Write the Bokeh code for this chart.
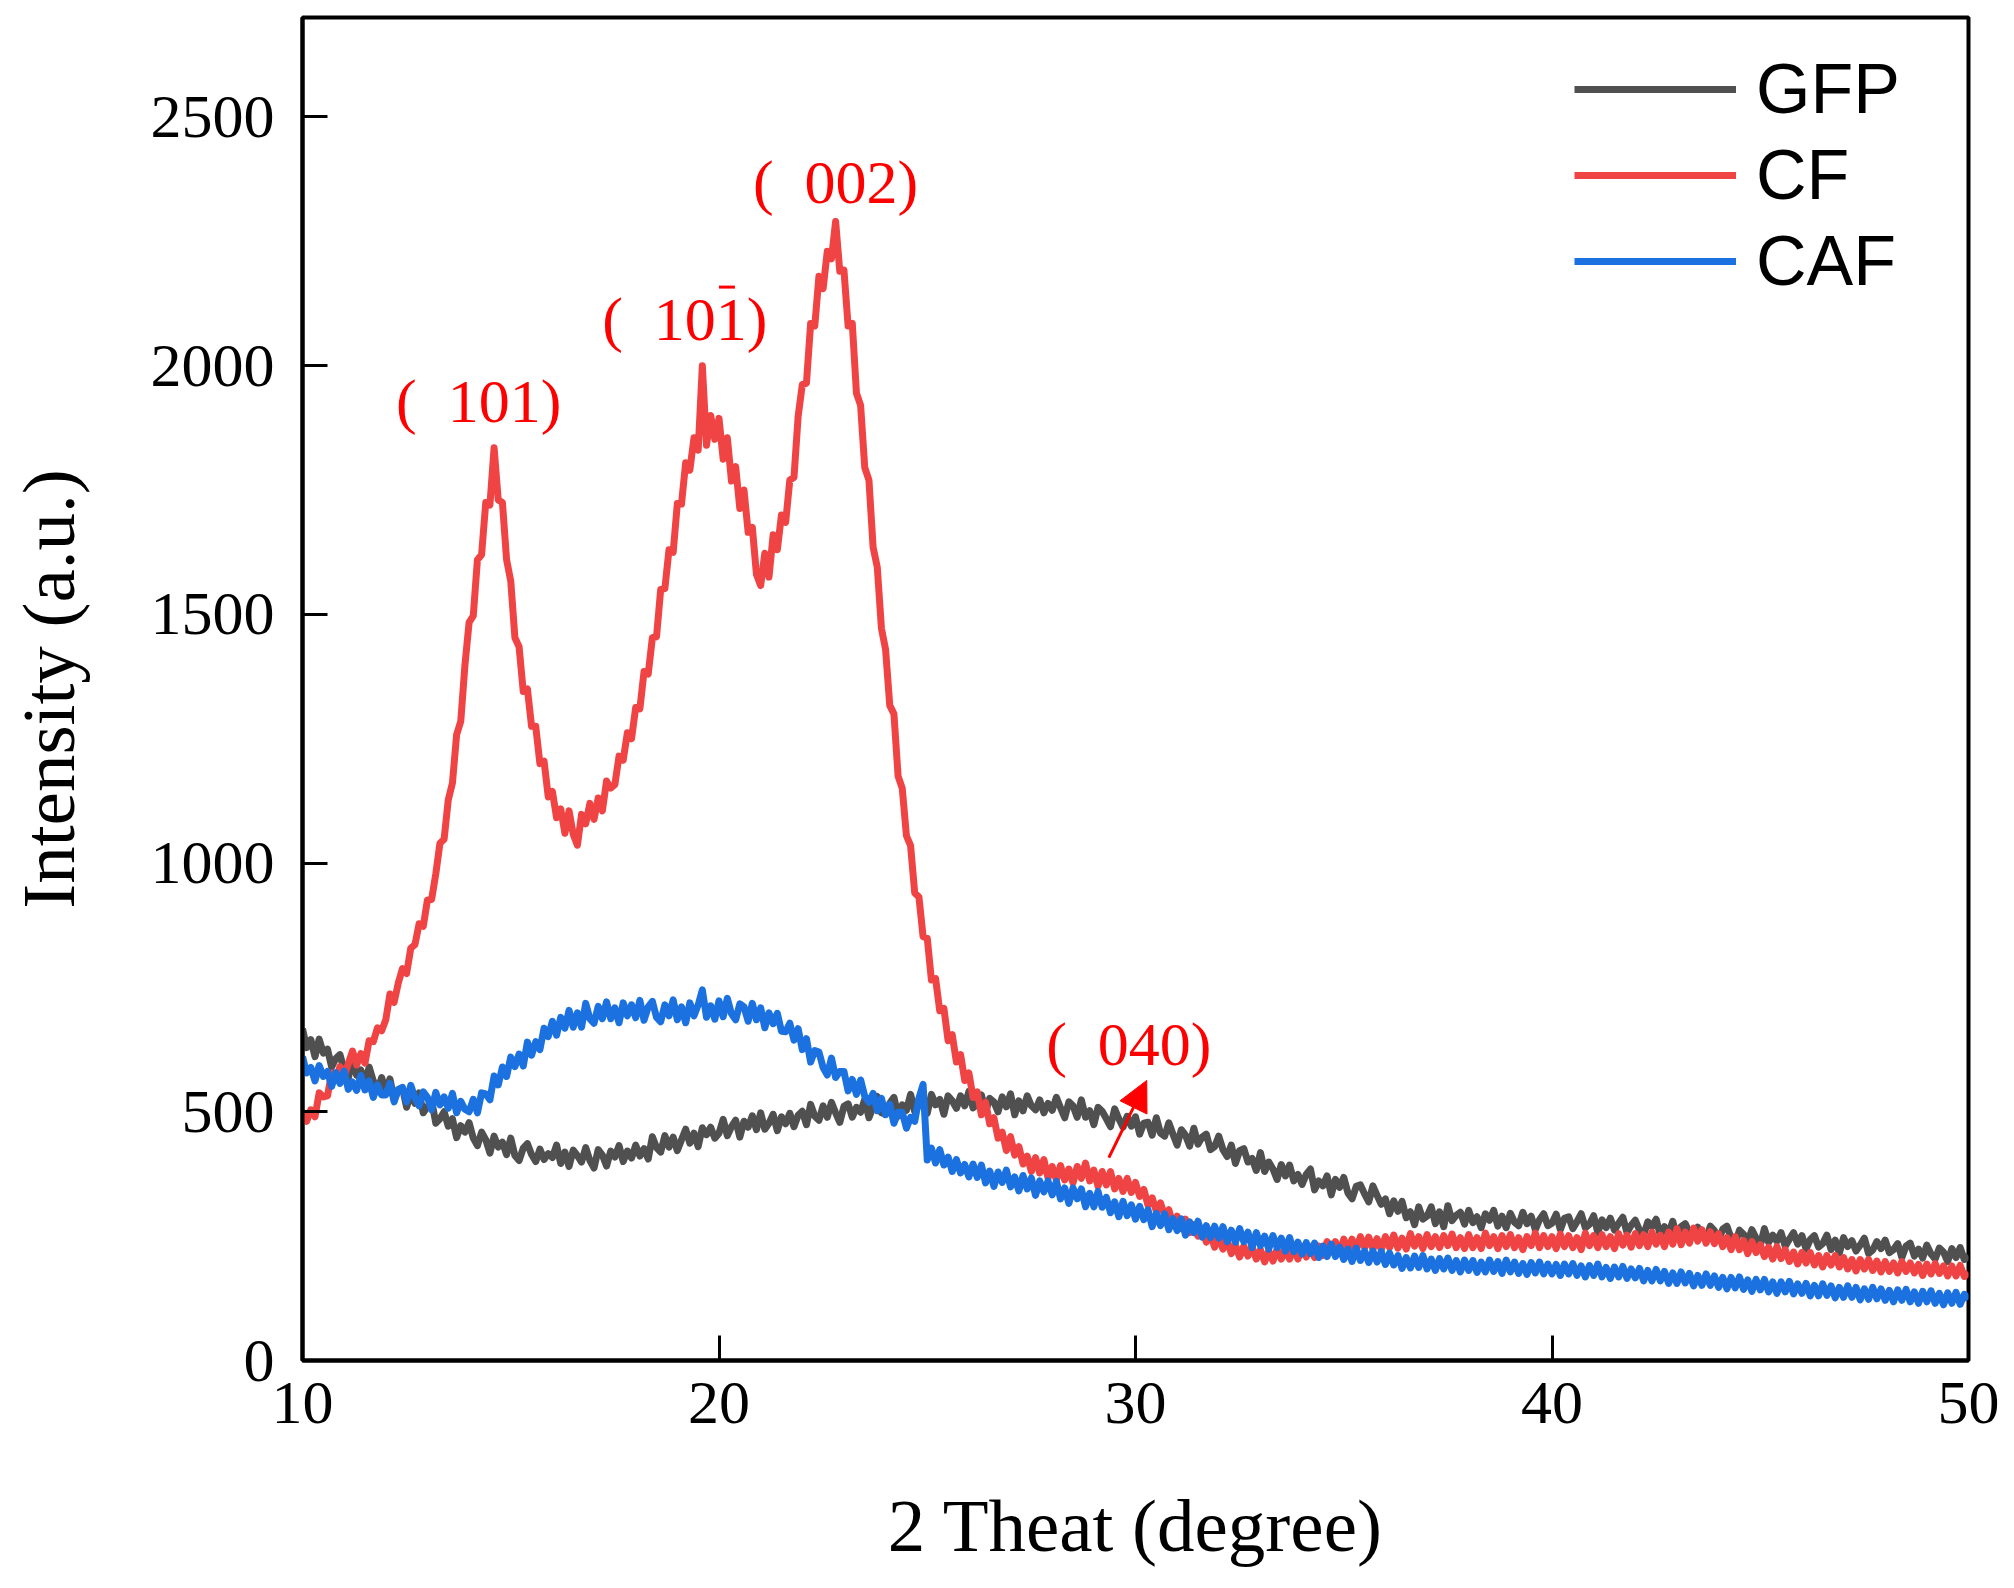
import numpy as np
from bokeh.plotting import figure
from bokeh.models import (ColumnDataSource, Range1d, FixedTicker, Legend, LegendItem,
                          Arrow, NormalHead)
from bokeh.core.properties import value
from bokeh.embed import file_html
from bokeh.resources import INLINE

# ---------------- data (2-theta sampling grid: start 10.0, step 0.1) ----------------
two_theta_start = 10.0
two_theta_step = 0.1

gfp = [
    667, 629, 645, 611, 646, 618, 626, 590, 607, 615, 584, 568, 605, 573, 584, 557, 590, 562, 542, 569,
    541, 566, 525, 544, 548, 509, 537, 517, 538, 498, 510, 523, 477, 486, 500, 471, 486, 448, 472, 459,
    478, 447, 432, 459, 444, 417, 451, 429, 439, 414, 447, 412, 402, 427, 436, 414, 400, 425, 404, 416,
    408, 433, 396, 419, 390, 423, 412, 399, 428, 402, 387, 424, 413, 391, 421, 409, 432, 400, 421, 407,
    433, 411, 426, 405, 450, 428, 419, 452, 429, 449, 422, 444, 465, 437, 457, 430, 468, 454, 469, 447,
    457, 485, 452, 470, 483, 449, 481, 469, 492, 464, 498, 465, 477, 495, 462, 490, 476, 497, 470, 493,
    501, 474, 515, 491, 483, 512, 489, 519, 498, 479, 511, 516, 489, 509, 499, 525, 488, 510, 531, 498,
    495, 517, 529, 491, 514, 503, 535, 500, 525, 510, 497, 535, 514, 525, 495, 532, 522, 507, 532, 512,
    541, 508, 515, 534, 499, 527, 520, 500, 530, 510, 536, 494, 522, 502, 532, 512, 504, 524, 498, 517,
    503, 529, 508, 488, 520, 512, 489, 524, 489, 502, 474, 509, 501, 486, 470, 506, 486, 469, 491, 471,
    490, 455, 477, 479, 453, 488, 457, 451, 478, 455, 433, 464, 453, 431, 467, 435, 449, 455, 424, 430,
    451, 424, 410, 433, 396, 422, 426, 399, 406, 382, 418, 380, 399, 385, 364, 394, 371, 393, 361, 374,
    354, 374, 385, 343, 361, 351, 371, 333, 364, 348, 368, 337, 325, 350, 353, 335, 319, 351, 332, 314,
    325, 295, 321, 300, 320, 287, 299, 273, 309, 284, 290, 309, 275, 299, 269, 311, 281, 292, 298, 274,
    302, 277, 289, 267, 295, 282, 302, 270, 290, 267, 296, 278, 271, 298, 275, 290, 263, 283, 295, 271,
    276, 294, 263, 286, 289, 265, 279, 295, 267, 274, 291, 257, 283, 267, 286, 262, 276, 288, 257, 272,
    282, 262, 252, 279, 269, 284, 252, 269, 255, 280, 245, 269, 275, 257, 249, 268, 256, 242, 270, 261,
    242, 264, 270, 246, 234, 262, 254, 239, 263, 246, 231, 265, 237, 252, 240, 257, 230, 244, 257, 234,
    251, 224, 243, 251, 228, 235, 252, 223, 242, 216, 247, 229, 241, 220, 232, 246, 215, 222, 239, 225,
    242, 217, 223, 235, 207, 230, 236, 210, 224, 206, 232, 214, 204, 226, 218, 199, 225, 207, 227, 203,
    211,
]

cf = [
    495, 481, 504, 490, 538, 530, 532, 578, 563, 591, 572, 597, 622, 594, 617, 598, 643, 641, 669, 663,
    685, 737, 720, 759, 788, 778, 829, 836, 878, 873, 926, 927, 978, 1040, 1048, 1127, 1161, 1258, 1285, 1398,
    1484, 1497, 1610, 1620, 1725, 1720, 1835, 1730, 1725, 1610, 1567, 1453, 1435, 1345, 1350, 1275, 1275, 1200, 1205, 1133,
    1144, 1091, 1109, 1060, 1105, 1058, 1036, 1098, 1079, 1120, 1088, 1131, 1105, 1165, 1151, 1158, 1215, 1207, 1262, 1250,
    1313, 1310, 1385, 1380, 1453, 1455, 1550, 1552, 1630, 1625, 1723, 1722, 1805, 1790, 1855, 1830, 2000, 1840, 1900, 1852,
    1894, 1812, 1855, 1768, 1797, 1713, 1750, 1665, 1675, 1580, 1558, 1623, 1575, 1660, 1630, 1700, 1685, 1770, 1775, 1898,
    1962, 1965, 2085, 2080, 2180, 2155, 2230, 2215, 2290, 2190, 2192, 2080, 2085, 1945, 1920, 1795, 1770, 1635, 1595, 1472,
    1429, 1317, 1300, 1175, 1150, 1055, 1035, 940, 932, 852, 849, 765, 768, 703, 708, 643, 655, 600, 615, 563,
    578, 529, 540, 494, 519, 476, 488, 447, 459, 422, 450, 413, 430, 395, 411, 380, 408, 377, 404, 367,
    390, 363, 392, 363, 385, 357, 390, 366, 397, 361, 383, 350, 380, 353, 380, 345, 366, 340, 366, 338,
    358, 330, 344, 312, 327, 300, 317, 291, 303, 273, 290, 265, 284, 257, 273, 250, 266, 238, 254, 228,
    248, 224, 243, 215, 232, 208, 230, 210, 228, 204, 223, 198, 220, 200, 224, 204, 223, 204, 227, 204,
    229, 208, 229, 207, 230, 211, 239, 219, 239, 216, 244, 223, 244, 222, 249, 227, 248, 224, 245, 223,
    249, 227, 252, 226, 246, 224, 255, 230, 249, 225, 253, 229, 249, 227, 251, 231, 254, 227, 247, 225,
    253, 227, 247, 225, 256, 231, 249, 225, 251, 229, 253, 227, 247, 223, 249, 231, 256, 227, 251, 229,
    249, 225, 254, 229, 251, 227, 247, 223, 256, 231, 251, 227, 253, 229, 249, 225, 255, 232, 252, 228,
    255, 231, 253, 229, 258, 234, 252, 229, 258, 234, 265, 233, 258, 236, 266, 240, 263, 236, 259, 235,
    255, 229, 247, 223, 249, 223, 241, 215, 239, 217, 233, 209, 228, 204, 229, 205, 223, 199, 218, 194,
    217, 196, 217, 192, 211, 188, 211, 192, 211, 188, 207, 184, 203, 180, 203, 184, 203, 181, 200, 178,
    199, 179, 196, 176, 199, 179, 196, 176, 193, 171, 194, 174, 195, 175, 190, 170, 190, 170, 191, 169,
    177,
]

caf = [
    611, 578, 589, 562, 593, 571, 581, 551, 579, 557, 582, 545, 560, 543, 573, 544, 562, 529, 554, 534,
    534, 557, 520, 545, 549, 520, 553, 528, 512, 540, 529, 504, 539, 514, 530, 507, 537, 498, 521, 505,
    500, 525, 498, 538, 536, 524, 572, 554, 590, 571, 610, 591, 616, 592, 640, 614, 641, 625, 668, 651,
    682, 654, 690, 668, 704, 670, 699, 670, 718, 687, 678, 712, 687, 721, 687, 709, 679, 719, 693, 715,
    689, 724, 684, 711, 722, 690, 681, 715, 693, 725, 685, 711, 679, 719, 693, 715, 745, 690, 713, 686,
    723, 691, 728, 697, 685, 717, 711, 682, 718, 685, 709, 669, 699, 677, 698, 662, 661, 678, 644, 667,
    625, 647, 600, 623, 620, 589, 574, 608, 569, 581, 581, 542, 565, 535, 564, 531, 519, 537, 502, 527,
    494, 515, 477, 499, 499, 467, 489, 481, 527, 555, 403, 427, 397, 424, 393, 409, 380, 404, 377, 394,
    369, 395, 368, 393, 357, 381, 350, 379, 358, 383, 349, 369, 341, 372, 345, 367, 332, 361, 339, 361,
    333, 360, 325, 347, 316, 347, 325, 345, 309, 336, 309, 340, 308, 328, 297, 319, 289, 320, 291, 313,
    284, 310, 283, 303, 269, 296, 271, 295, 263, 285, 261, 285, 252, 279, 257, 280, 248, 271, 247, 270,
    246, 269, 239, 262, 238, 265, 239, 258, 227, 257, 231, 250, 224, 251, 227, 246, 220, 247, 219, 238,
    214, 237, 215, 236, 207, 230, 209, 234, 209, 228, 203, 224, 199, 226, 201, 220, 197, 220, 198, 219,
    193, 216, 192, 211, 185, 207, 186, 210, 187, 211, 184, 204, 181, 205, 184, 206, 181, 201, 178, 202,
    181, 201, 177, 198, 178, 202, 179, 199, 175, 202, 178, 198, 175, 195, 173, 197, 176, 198, 174, 194,
    174, 193, 171, 194, 174, 195, 171, 190, 168, 191, 171, 194, 168, 187, 165, 188, 168, 189, 165, 184,
    166, 185, 160, 181, 160, 183, 160, 179, 155, 176, 155, 178, 156, 175, 150, 171, 151, 174, 151, 170,
    147, 167, 144, 167, 146, 168, 143, 162, 139, 163, 142, 163, 138, 158, 135, 158, 138, 159, 134, 154,
    135, 155, 130, 151, 130, 154, 131, 150, 126, 147, 127, 150, 127, 147, 122, 144, 123, 147, 124, 144,
    121, 141, 118, 142, 121, 143, 118, 138, 115, 139, 118, 140, 115, 135, 112, 136, 115, 137, 113, 133,
    123,
]

series_names = ["GFP", "CF", "CAF"]
series_colors = ["#505050", "#F04343", "#1B71DF"]

x_ticks = [10, 20, 30, 40, 50]
y_ticks = [0, 500, 1000, 1500, 2000, 2500]

x_title = "2 Theat (degree)"
y_title = "Intensity (a.u.)"

# peak annotations (hkl labels)
NB = "\u00a0"
peak_labels = ["(" + NB * 2 + "101)", "(" + NB * 2 + "101)", "(" + NB * 2 + "002)", "(" + NB * 2 + "040)"]
peak_x = [14.23, 19.18, 22.80, 29.84]
peak_y = [1929, 2094, 2370, 636]

# ---------------- figure ----------------
W, H = 2000, 1575
p = figure(width=W, height=H, output_backend="svg", toolbar_location=None,
           x_range=Range1d(10, 50), y_range=Range1d(0, 2700),
           min_border_left=302, min_border_right=32, min_border_top=17, min_border_bottom=215,
           background_fill_color="white", border_fill_color="white")
p.grid.visible = False
p.outline_line_color = "black"
p.outline_line_width = 4

serif = "Liberation Serif"

for ax in (p.xaxis[0], p.yaxis[0]):
    ax.axis_line_width = 4
    ax.axis_line_color = "black"
    ax.major_tick_in = 25
    ax.major_tick_out = 0
    ax.major_tick_line_width = 3
    ax.major_tick_line_color = "black"
    ax.minor_tick_line_color = None
    ax.major_label_text_font = serif
    ax.major_label_text_font_size = "62px"
    ax.major_label_text_color = "black"
    ax.axis_label_text_font = serif
    ax.axis_label_text_font_size = "75px"
    ax.axis_label_text_font_style = "normal"
    ax.axis_label_text_color = "black"

p.xaxis.ticker = FixedTicker(ticks=x_ticks)
p.yaxis.ticker = FixedTicker(ticks=y_ticks)
p.xaxis.axis_label = x_title
p.yaxis.axis_label = y_title
p.xaxis.major_label_standoff = 22
p.yaxis.major_label_standoff = 28
p.xaxis.axis_label_standoff = 58
p.yaxis.axis_label_standoff = 58

n = len(gfp)
x = two_theta_start + two_theta_step * np.arange(n)
src = ColumnDataSource(dict(x=x, GFP=gfp, CF=cf, CAF=caf))

legend_items = []
for name, col in zip(series_names, series_colors):
    r = p.line("x", name, source=src, line_color=col, line_width=7, line_join="round")
    legend_items.append(LegendItem(label=name, renderers=[r]))

legend = Legend(items=legend_items,
                location=(1272, 1056), orientation="vertical",
                padding=0, margin=0, spacing=0,
                glyph_width=162, glyph_height=86, label_height=86, label_standoff=20,
                label_text_font="Liberation Sans", label_text_font_size="70px",
                label_text_color="black",
                border_line_color=None, background_fill_alpha=0)
p.add_layout(legend)

# annotations
ann = ColumnDataSource(dict(x=peak_x, y=peak_y, t=peak_labels))
p.text("x", "y", text="t", source=ann, text_color="#FF0000",
       text_font=value(serif), text_font_size="62px",
       text_align="center", text_baseline="alphabetic")
# overbar on the last index of (1 0 -1)
p.rect(x=[20.19], y=[2158], width=16, height=3, width_units="screen", height_units="screen",
       fill_color="#FF0000", line_color=None)

p.add_layout(Arrow(end=NormalHead(size=30, fill_color="#FF0000", line_color="#FF0000"),
                   x_start=29.36, y_start=408, x_end=30.27, y_end=563,
                   line_color="#FF0000", line_width=3))

open("out.html", "w").write(file_html(p, INLINE))
